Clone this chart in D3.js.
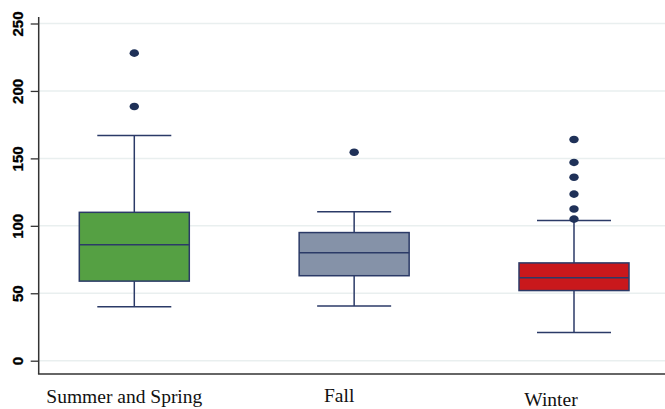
<!DOCTYPE html>
<html>
<head>
<meta charset="utf-8">
<script src="https://cdn.jsdelivr.net/npm/d3@7"></script>
<style>
  html, body { margin: 0; padding: 0; background: #fff; }
  svg { display: block; }
</style>
</head>
<body>
<svg id="chart" width="665" height="409"></svg>
<script>
// ---- data ----
const categories = ["Summer and Spring", "Fall", "Winter"];
const whiskerLow  = [40, 40.5, 21];
const q1          = [59, 63, 52];
const median      = [86, 80, 61.5];
const q3          = [110, 95, 72.5];
const whiskerHigh = [167, 110.5, 104];
const outliers    = [[188.5, 228], [154.5], [105, 112.5, 123.5, 136, 147, 164]];
const yTicks      = [0, 50, 100, 150, 200, 250];
const fills       = ["#55a043", "#8592a8", "#c9181c"];

// ---- layout ----
const W = 665, H = 409;
const axisX = 38.7, axisBottom = 374, axisTop = 17;
const boxW = 110, capW = 74;
const labelShift = [-10, -15, -23];   // label offsets from box centres (px)
const labelBase  = [403, 402, 406];
const navy = "#2b3a67";

const svg = d3.select("#chart");

const x = d3.scalePoint().domain(categories).range([134.3, 574]);
const y = d3.scaleLinear().domain([0, 250]).range([360.7, 23.5]);

// gridlines
svg.append("g").selectAll("line").data(yTicks).join("line")
  .attr("x1", axisX).attr("x2", W)
  .attr("y1", d => y(d)).attr("y2", d => y(d))
  .attr("stroke", "#e9efef").attr("stroke-width", 1.5);

// y axis
const yAxis = d3.axisLeft(y).tickValues(yTicks).tickSize(8).tickPadding(0).tickFormat(d3.format("d"));
const gy = svg.append("g").attr("transform", `translate(${axisX},0)`).call(yAxis);
gy.select(".domain").remove();
gy.selectAll(".tick line").attr("stroke", "#333").attr("stroke-width", 1.3);
gy.selectAll(".tick text")
  .attr("transform", "translate(-16,0) rotate(-90)")
  .attr("x", 0).attr("y", 0).attr("dy", 0)
  .attr("text-anchor", "middle")
  .style("font-family", "'Liberation Sans', Arial, sans-serif")
  .style("font-weight", "bold")
  .style("font-size", "15px")
  .attr("fill", "#000")
  .attr("stroke", "#000").attr("stroke-width", 0.3);

// axis lines
svg.append("line").attr("x1", axisX).attr("x2", axisX).attr("y1", axisTop).attr("y2", axisBottom)
  .attr("stroke", "#333").attr("stroke-width", 1.5);
svg.append("line").attr("x1", axisX - 0.75).attr("x2", W).attr("y1", axisBottom).attr("y2", axisBottom)
  .attr("stroke", "#333").attr("stroke-width", 1.5);

// boxes
const idx = d3.range(categories.length);
const g = svg.append("g").selectAll("g").data(idx).join("g");

// whisker stems
g.append("line")
  .attr("x1", i => x(categories[i])).attr("x2", i => x(categories[i]))
  .attr("y1", i => y(q3[i])).attr("y2", i => y(whiskerHigh[i]))
  .attr("stroke", navy).attr("stroke-width", 1.5);
g.append("line")
  .attr("x1", i => x(categories[i])).attr("x2", i => x(categories[i]))
  .attr("y1", i => y(q1[i])).attr("y2", i => y(whiskerLow[i]))
  .attr("stroke", navy).attr("stroke-width", 1.5);
// caps
g.append("line")
  .attr("x1", i => x(categories[i]) - capW / 2).attr("x2", i => x(categories[i]) + capW / 2)
  .attr("y1", i => y(whiskerHigh[i])).attr("y2", i => y(whiskerHigh[i]))
  .attr("stroke", navy).attr("stroke-width", 1.5);
g.append("line")
  .attr("x1", i => x(categories[i]) - capW / 2).attr("x2", i => x(categories[i]) + capW / 2)
  .attr("y1", i => y(whiskerLow[i])).attr("y2", i => y(whiskerLow[i]))
  .attr("stroke", navy).attr("stroke-width", 1.5);
// box
g.append("rect")
  .attr("x", i => x(categories[i]) - boxW / 2)
  .attr("width", boxW)
  .attr("y", i => y(q3[i]))
  .attr("height", i => y(q1[i]) - y(q3[i]))
  .attr("fill", i => fills[i])
  .attr("stroke", navy).attr("stroke-width", 1.5);
// median
g.append("line")
  .attr("x1", i => x(categories[i]) - boxW / 2).attr("x2", i => x(categories[i]) + boxW / 2)
  .attr("y1", i => y(median[i])).attr("y2", i => y(median[i]))
  .attr("stroke", navy).attr("stroke-width", 1.5);
// outliers
g.each(function(i) {
  d3.select(this).selectAll("ellipse").data(outliers[i]).join("ellipse")
    .attr("cx", x(categories[i]))
    .attr("cy", d => y(d))
    .attr("rx", 4.7).attr("ry", 3.8)
    .attr("fill", "#1f3158");
});

// category labels
svg.append("g").selectAll("text").data(idx).join("text")
  .attr("x", i => x(categories[i]) + labelShift[i])
  .attr("y", i => labelBase[i])
  .attr("text-anchor", "middle")
  .style("font-family", "'Liberation Serif', 'Times New Roman', serif")
  .style("font-size", "19.5px")
  .attr("fill", "#111")
  .text(i => categories[i]);
</script>
</body>
</html>
